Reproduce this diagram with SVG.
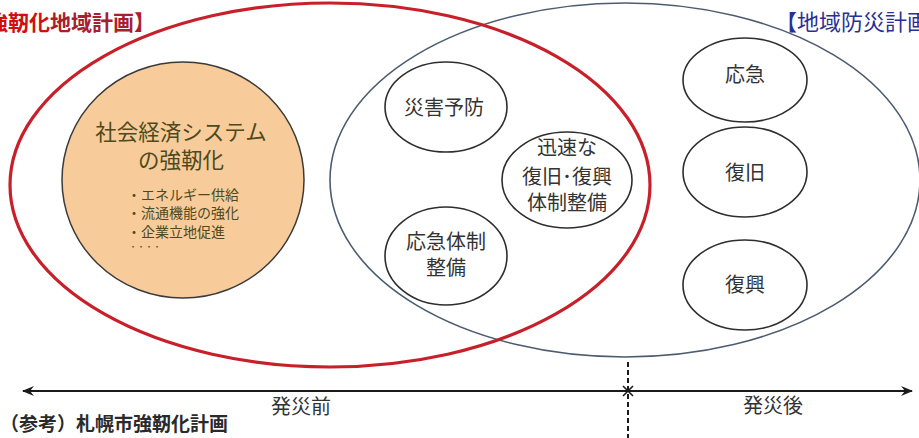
<svg xmlns="http://www.w3.org/2000/svg" width="919" height="438" viewBox="0 0 919 438">
<defs>
<style>
text{font-family:"Noto Sans CJK JP","Noto Sans",sans-serif;}
.n{fill:#fff;stroke:#2e2e2e;stroke-width:1.6;}
.t{font-size:20px;fill:#333;text-anchor:middle;}
.o{fill:#4e4a1e;}
.b{font-size:14px;fill:#4e4a1e;}
</style>
<marker id="ah" viewBox="0 0 12 10" refX="11" refY="5" markerWidth="12" markerHeight="10" markerUnits="userSpaceOnUse" orient="auto-start-reverse">
<path d="M0,0 L12,5 L0,10 L4,5 Z" fill="#1a1a1a"/>
</marker>
</defs>
<rect width="919" height="438" fill="#fff"/>
<g id="disaster-plan">
<ellipse cx="625" cy="180" rx="295" ry="177" fill="none" stroke="#4d5b70" stroke-width="1.6"/>
<text x="775" y="30" font-size="22" fill="#2b2f95">【地域防災計画</text>
</g>
<g id="resilience-plan">
<ellipse cx="330" cy="185" rx="320" ry="182" fill="none" stroke="#c8202a" stroke-width="3.2"/>
<text x="-13" y="30" font-size="21" font-weight="bold"><tspan fill="#d01010">強靭化</tspan><tspan fill="#a82030">地域計画】</tspan></text>
</g>
<g id="socio-economic">
<ellipse cx="183" cy="180" rx="121" ry="118" fill="#f8cc9a" stroke="#3a3a3a" stroke-width="1.5"/>
<text x="181" y="140" font-size="21.5" class="o" text-anchor="middle">社会経済システム</text>
<text x="181" y="168" font-size="21.5" class="o" text-anchor="middle">の強靭化</text>
<text x="127" y="200" class="b">・エネルギー供給</text>
<text x="127" y="218" class="b">・流通機能の強化</text>
<text x="127" y="237" class="b">・企業立地促進</text>
<text x="129" y="250" font-size="8" class="o">・・・・</text>
</g>
<g id="prevention">
<ellipse class="n" cx="446" cy="107" rx="61" ry="45"/>
<text class="t" x="444" y="115">災害予防</text>
</g>
<g id="rapid-recovery">
<ellipse class="n" cx="567" cy="180" rx="65" ry="48"/>
<text class="t" x="567" y="155">迅速な</text>
<text class="t" x="567" y="184">復旧･復興</text>
<text class="t" x="567" y="210">体制整備</text>
</g>
<g id="emergency-system">
<ellipse class="n" cx="446" cy="256" rx="61" ry="49"/>
<text class="t" x="446" y="249">応急体制</text>
<text class="t" x="446" y="275">整備</text>
</g>
<g id="emergency">
<ellipse class="n" cx="745" cy="80" rx="62" ry="42"/>
<text class="t" x="745" y="82">応急</text>
</g>
<g id="restoration">
<ellipse class="n" cx="745" cy="172" rx="62" ry="45"/>
<text class="t" x="745" y="180">復旧</text>
</g>
<g id="reconstruction">
<ellipse class="n" cx="745" cy="285" rx="62" ry="45"/>
<text class="t" x="745" y="292">復興</text>
</g>
<g id="connectors">
<line x1="23" y1="391" x2="912" y2="391" stroke="#1a1a1a" stroke-width="2" marker-start="url(#ah)" marker-end="url(#ah)"/>
<line x1="628" y1="362" x2="628" y2="438" stroke="#1a1a1a" stroke-width="2" stroke-dasharray="5,3"/>
<path d="M623,386 L633,396 M633,386 L623,396" stroke="#1a1a1a" stroke-width="1.6"/>
</g>
<g id="timeline-labels">
<text class="t" x="301" y="414" font-size="21">発災前</text>
<text class="t" x="773" y="413" font-size="21">発災後</text>
<text x="0" y="431" font-size="19" fill="#2a2a2a" font-weight="bold">（参考）札幌市強靭化計画</text>
</g>
</svg>
